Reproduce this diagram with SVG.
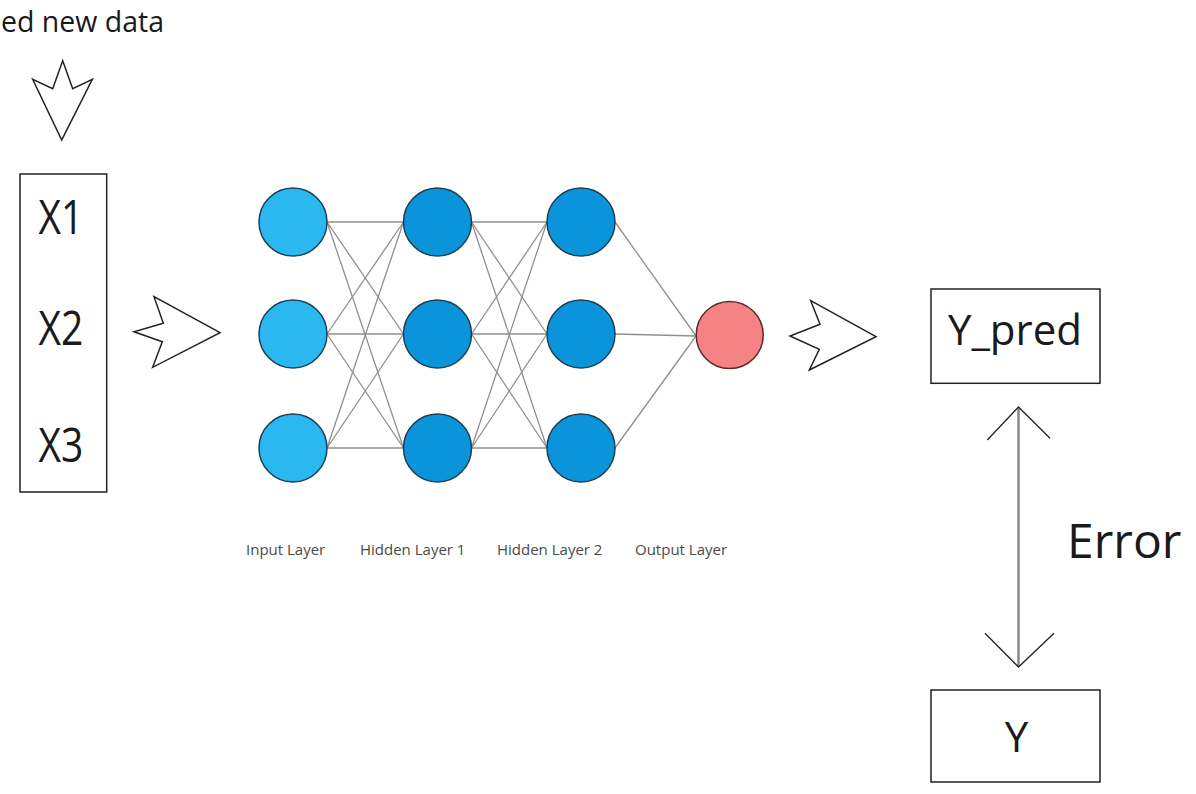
<svg xmlns="http://www.w3.org/2000/svg" width="1196" height="794" viewBox="0 0 1196 794">
<style>
.t{font-family:"Open Sans","Noto Sans",sans-serif;fill:#1a1a1a}
.lbl{font-family:"Open Sans","Noto Sans",sans-serif;font-size:15px;fill:#4a4a4a}
.box{fill:#fff;stroke:#222;stroke-width:1.5}
.fat{fill:#fff;stroke:#222;stroke-width:1.5;stroke-linejoin:miter}
.in{fill:#2BB8F0;stroke:#1b3f55;stroke-width:1.5}
.hid{fill:#0C94DA;stroke:#1b3f55;stroke-width:1.5}
.out{fill:#F58383;stroke:#5a2a2a;stroke-width:1.5}
.w{stroke:#8f8f8f;stroke-width:1.3;fill:none}
.chev{stroke:#222;stroke-width:1.3;fill:none}
</style>
<rect width="1196" height="794" fill="#fff"/>
<g id="feed-label">
<text class="t" x="1" y="32" font-size="28.5">ed new data</text>
</g>
<g id="feed-arrow">
<polygon class="fat" points="62.7,60.7 52.7,88.7 32.7,79.3 61.7,140 92.3,79.3 72.7,88.7"/>
</g>
<g id="inputs">
<rect class="box" x="20" y="174" width="86.7" height="318"/>
<text class="t" transform="translate(61,234) scale(1,1.22)" font-size="39" text-anchor="middle">X1</text>
<text class="t" transform="translate(61,345) scale(1,1.22)" font-size="39" text-anchor="middle">X2</text>
<text class="t" transform="translate(61,462) scale(1,1.22)" font-size="39" text-anchor="middle">X3</text>
</g>
<g id="arrow-in">
<polygon class="fat" points="220,332.7 154,296.7 163.3,323.3 134,331.7 162.3,341.7 152.7,367.3"/>
</g>
<g id="connectors">
<g class="w">
<line x1="327" y1="222" x2="403.5" y2="222"/>
<line x1="327" y1="222" x2="403.5" y2="334"/>
<line x1="327" y1="222" x2="403.5" y2="448"/>
<line x1="327" y1="334" x2="403.5" y2="222"/>
<line x1="327" y1="334" x2="403.5" y2="334"/>
<line x1="327" y1="334" x2="403.5" y2="448"/>
<line x1="327" y1="448" x2="403.5" y2="222"/>
<line x1="327" y1="448" x2="403.5" y2="334"/>
<line x1="327" y1="448" x2="403.5" y2="448"/>
<line x1="471.5" y1="222" x2="547" y2="222"/>
<line x1="471.5" y1="222" x2="547" y2="334"/>
<line x1="471.5" y1="222" x2="547" y2="448"/>
<line x1="471.5" y1="334" x2="547" y2="222"/>
<line x1="471.5" y1="334" x2="547" y2="334"/>
<line x1="471.5" y1="334" x2="547" y2="448"/>
<line x1="471.5" y1="448" x2="547" y2="222"/>
<line x1="471.5" y1="448" x2="547" y2="334"/>
<line x1="471.5" y1="448" x2="547" y2="448"/>
<line x1="615" y1="222" x2="696" y2="336"/>
<line x1="615" y1="334" x2="696" y2="336"/>
<line x1="615" y1="448" x2="696" y2="336"/>
</g>
<line x1="1018.5" y1="408" x2="1018.5" y2="666" stroke="#888" stroke-width="2.5"/>
<polyline class="chev" points="987.3,440 1018.5,407 1050,438.3"/>
<polyline class="chev" points="985,633.3 1018.5,667 1054,633.3"/>
</g>
<g id="input-layer">
<circle class="in" cx="293" cy="222" r="34"/>
<circle class="in" cx="293" cy="334" r="34"/>
<circle class="in" cx="293" cy="448" r="34"/>
</g>
<g id="hidden-layer-1">
<circle class="hid" cx="437.5" cy="222" r="34"/>
<circle class="hid" cx="437.5" cy="334" r="34"/>
<circle class="hid" cx="437.5" cy="448" r="34"/>
</g>
<g id="hidden-layer-2">
<circle class="hid" cx="581" cy="222" r="34"/>
<circle class="hid" cx="581" cy="334" r="34"/>
<circle class="hid" cx="581" cy="448" r="34"/>
</g>
<g id="output-layer">
<circle class="out" cx="729.7" cy="335" r="33.5"/>
</g>
<g id="layer-labels">
<text class="lbl" x="246" y="555">Input Layer</text>
<text class="lbl" x="360" y="555">Hidden Layer 1</text>
<text class="lbl" x="497" y="555">Hidden Layer 2</text>
<text class="lbl" x="635" y="555">Output Layer</text>
</g>
<g id="arrow-out">
<polygon class="fat" points="876,336.7 810.7,300.7 820,324.3 790,336 819.3,349.3 809.3,370"/>
</g>
<g id="y-pred">
<rect class="box" x="931" y="289" width="169" height="94.3"/>
<text class="t" x="1015" y="345" font-size="42" text-anchor="middle">Y_pred</text>
</g>
<g id="error-label">
<text class="t" x="1067" y="558" font-size="48">Error</text>
</g>
<g id="y">
<rect class="box" x="931" y="690" width="169" height="92"/>
<text class="t" x="1016.5" y="752" font-size="42" text-anchor="middle">Y</text>
</g>
</svg>
